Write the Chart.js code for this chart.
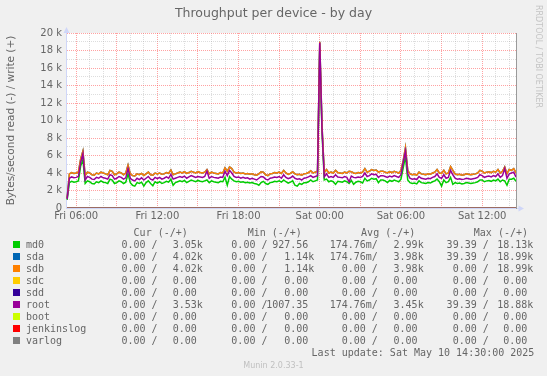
<!DOCTYPE html>
<html>
<head>
<meta charset="utf-8">
<script src="https://cdn.jsdelivr.net/npm/chart.js@4"></script>
<style>
  html, body { margin: 0; padding: 0; background: #f0f0f0; }
  canvas { display: block; }
</style>
</head>
<body>
<canvas id="chart" width="547" height="376"></canvas>
<script>
// time axis: hours since Fri 00:00, one sample every 10 minutes from Fri 05:20
const startHour = 5 + 20 / 60;
const stepHour = 10 / 60;

// write throughput in k bytes/s
const md0 = [
  0.93, 2.9, 3.05, 2.95, 3.0, 3.1, 4.8, 5.5, 2.8, 3.1,
  3.0, 2.8, 2.75, 3.0, 2.9, 3.1, 2.95, 2.9, 2.8, 3.3,
  3.2, 2.8, 2.9, 3.1, 3.0, 2.8, 2.95, 3.9, 2.9, 2.6,
  2.5, 2.9, 2.8, 2.95, 2.5, 2.9, 3.1, 2.8, 2.55, 3.0,
  2.85, 3.0, 2.8, 2.9, 3.05, 2.95, 3.3, 2.6, 2.9, 3.0,
  3.1, 3.0, 3.15, 2.9, 3.05, 3.2, 3.1, 3.0, 3.15, 3.05,
  3.0, 3.1, 3.2, 2.9, 3.1, 3.0, 2.95, 2.9, 3.05, 3.0,
  3.5, 2.6, 3.6, 3.3, 3.1, 3.0, 3.05, 2.95, 3.0, 2.9,
  2.95, 2.85, 2.9, 2.8, 2.75, 2.6, 2.9, 3.05, 2.8, 2.7,
  2.9, 2.95, 3.05, 3.0, 3.1, 2.95, 3.2, 3.0, 2.85, 2.95,
  3.1, 2.6, 2.5, 2.8, 2.7, 2.9, 2.9, 3.0, 3.2, 3.0,
  3.1, 3.2, 18.13, 8.7, 3.2, 3.3, 3.0, 3.1, 3.0, 2.7,
  3.05, 3.0, 2.95, 3.1, 3.0, 2.8, 3.15, 2.7, 2.95, 3.05,
  3.0, 2.85, 3.4, 3.1, 3.2, 3.4, 3.3, 3.35, 2.9, 3.2,
  3.2, 3.1, 2.9, 3.15, 3.05, 3.2, 3.1, 3.0, 3.3, 4.6,
  5.9, 3.2, 2.9, 2.8, 2.85, 2.75, 3.1, 2.9, 2.85, 2.8,
  2.9, 2.85, 3.0, 3.1, 3.3, 3.0, 2.5, 3.2, 2.9, 3.0,
  3.5, 2.7, 2.9, 2.8, 2.85, 2.75, 2.8, 2.9, 2.85, 2.8,
  2.85, 2.9, 3.0, 3.2, 3.2, 3.0, 3.1, 3.15, 3.05, 3.2,
  3.1, 3.3, 3.0, 3.2, 3.1, 2.6, 3.3, 3.3, 3.4, 3.05
];
const sdb = [
  1.14, 3.9, 4.05, 3.95, 4.0, 4.1, 5.6, 6.5, 3.7, 4.1,
  4.0, 3.8, 3.75, 4.0, 3.9, 4.1, 4.0, 3.9, 3.8, 4.3,
  4.2, 3.8, 3.9, 4.1, 4.0, 3.8, 4.0, 4.9, 3.9, 3.7,
  3.65, 3.9, 3.8, 3.95, 3.7, 3.9, 4.1, 3.8, 3.75, 4.0,
  3.9, 4.0, 3.85, 3.9, 4.05, 3.95, 4.35, 3.8, 3.9, 4.0,
  4.1, 4.0, 4.15, 3.95, 4.05, 4.2, 4.1, 4.0, 4.15, 4.05,
  4.0, 4.1, 4.4, 3.9, 4.1, 4.0, 3.95, 3.9, 4.05, 4.0,
  4.6, 4.2, 4.7, 4.5, 4.1, 4.0, 4.05, 3.95, 4.0, 3.9,
  3.95, 3.85, 3.9, 3.8, 3.75, 3.9, 4.15, 4.1, 3.8, 3.7,
  3.9, 3.95, 4.05, 4.0, 4.1, 3.95, 4.3, 4.0, 3.85, 3.95,
  4.15, 3.9, 3.8, 3.85, 3.75, 3.9, 3.95, 4.05, 4.25, 4.0,
  4.1, 4.2, 18.99, 9.4, 4.05, 4.4, 4.0, 4.1, 4.0, 4.3,
  4.05, 4.0, 3.95, 4.1, 4.0, 4.2, 4.15, 4.0, 3.95, 4.05,
  4.0, 4.1, 4.5, 4.1, 4.2, 4.4, 4.3, 4.35, 4.1, 4.2,
  4.2, 4.1, 4.0, 4.15, 4.05, 4.2, 4.1, 4.0, 4.3, 5.4,
  6.9, 4.3, 3.9, 3.8, 3.85, 3.75, 4.1, 3.9, 3.85, 3.8,
  3.9, 3.85, 4.0, 4.1, 4.4, 4.0, 3.95, 4.3, 3.9, 4.0,
  4.75, 4.3, 3.9, 3.8, 3.85, 3.75, 3.8, 3.9, 3.85, 3.8,
  3.85, 3.9, 4.0, 4.3, 4.2, 4.0, 4.1, 4.15, 4.05, 4.2,
  4.1, 4.4, 4.0, 4.2, 4.7, 3.9, 4.4, 4.3, 4.5, 4.02
];
// sda mirrors sdb (identical stats in the legend), drawn underneath it
const sda = sdb.slice();
const root = [
  1.01, 3.4, 3.55, 3.45, 3.5, 3.6, 5.2, 6.2, 3.2, 3.6,
  3.5, 3.3, 3.25, 3.5, 3.4, 3.6, 3.45, 3.4, 3.3, 3.8,
  3.7, 3.3, 3.4, 3.6, 3.5, 3.3, 3.45, 4.5, 3.4, 3.2,
  3.1, 3.4, 3.25, 3.45, 3.2, 3.4, 3.6, 3.3, 3.2, 3.5,
  3.35, 3.5, 3.3, 3.4, 3.55, 3.4, 3.85, 3.3, 3.4, 3.5,
  3.6, 3.5, 3.65, 3.4, 3.55, 3.7, 3.6, 3.5, 3.6, 3.55,
  3.5, 3.6, 4.2, 3.4, 3.6, 3.5, 3.45, 3.4, 3.55, 3.5,
  4.2, 3.7, 4.3, 4.0, 3.6, 3.5, 3.55, 3.4, 3.5, 3.4,
  3.45, 3.3, 3.4, 3.3, 3.2, 3.4, 3.6, 3.55, 3.3, 3.2,
  3.4, 3.45, 3.55, 3.5, 3.6, 3.4, 3.8, 3.5, 3.35, 3.45,
  3.65, 3.4, 3.3, 3.35, 3.2, 3.4, 3.45, 3.55, 3.7, 3.5,
  3.6, 3.7, 18.88, 9.0, 3.55, 3.9, 3.5, 3.6, 3.5, 3.8,
  3.55, 3.5, 3.45, 3.6, 3.5, 3.0, 3.65, 3.5, 3.45, 3.55,
  3.5, 3.6, 4.0, 3.6, 3.7, 3.9, 3.8, 3.85, 3.5, 3.7,
  3.7, 3.6, 3.5, 3.65, 3.55, 3.7, 3.6, 3.5, 3.8, 5.2,
  6.5, 3.9, 3.4, 3.3, 3.35, 3.25, 3.6, 3.4, 3.35, 3.3,
  3.4, 3.35, 3.5, 3.6, 3.9, 3.5, 3.4, 3.8, 3.4, 3.5,
  4.3, 3.8, 3.4, 3.3, 3.35, 3.25, 3.3, 3.4, 3.35, 3.3,
  3.35, 3.4, 3.5, 3.8, 3.7, 3.5, 3.6, 3.65, 3.55, 3.7,
  3.6, 3.9, 3.5, 3.7, 4.5, 3.4, 3.9, 4.0, 4.1, 3.53
];
// devices that stayed at 0 for the whole period (first and last sample)
const sdc = [0, 0];
const sdd = [0, 0];
const boot = [0, 0];
const jenkinslog = [0, 0];
const varlog = [0, 0];

const names = ['md0', 'sda', 'sdb', 'sdc', 'sdd', 'root', 'boot', 'jenkinslog', 'varlog'];
const colors = ['#00CC00', '#0066B3', '#FF8000', '#FFCC00', '#330099', '#990099', '#CCFF00', '#FF0000', '#808080'];
const series = [md0, sda, sdb, sdc, sdd, root, boot, jenkinslog, varlog];

const xLabelHours = [6, 12, 18, 24, 30, 36];
const xLabels = ['Fri 06:00', 'Fri 12:00', 'Fri 18:00', 'Sat 00:00', 'Sat 06:00', 'Sat 12:00'];

// legend table (read / write)
const curRead = ['  0.00 /', '  0.00 /', '  0.00 /', '  0.00 /', '  0.00 /', '  0.00 /', '  0.00 /', '  0.00 /', '  0.00 /'];
const curWrite = ['   3.05k', '   4.02k', '   4.02k', '   0.00', '   0.00', '   3.53k', '   0.00', '   0.00', '   0.00'];
const minRead = ['  0.00 /', '  0.00 /', '  0.00 /', '  0.00 /', '  0.00 /', '  0.00 /', '  0.00 /', '  0.00 /', '  0.00 /'];
const minWrite = [' 927.56', '   1.14k', '   1.14k', '   0.00', '   0.00', '1007.35', '   0.00', '   0.00', '   0.00'];
const avgRead = ['174.76m/', '174.76m/', '  0.00 /', '  0.00 /', '  0.00 /', '174.76m/', '  0.00 /', '  0.00 /', '  0.00 /'];
const avgWrite = ['   2.99k', '   3.98k', '   3.98k', '   0.00', '   0.00', '   3.45k', '   0.00', '   0.00', '   0.00'];
const maxRead = [' 39.39 /', ' 39.39 /', '  0.00 /', '  0.00 /', '  0.00 /', ' 39.39 /', '  0.00 /', '  0.00 /', '  0.00 /'];
const maxWrite = ['  18.13k', '  18.99k', '  18.99k', '   0.00', '   0.00', '  18.88k', '   0.00', '   0.00', '   0.00'];

const lastSample = startHour + (md0.length - 1) * stepHour;

function toPoints(values) {
  if (values.length === 2) {
    return [{ x: startHour, y: values[0] }, { x: lastSample, y: values[1] }];
  }
  return values.map((v, i) => ({ x: startHour + i * stepHour, y: v }));
}

const datasets = series.map((values, i) => ({
  label: names[i],
  data: toPoints(values),
  borderColor: colors[i],
  backgroundColor: colors[i],
  borderWidth: 1.5,
  pointRadius: 0,
  tension: 0,
  fill: false,
  order: series.length - i  // later devices on top, like rrdtool
}));

const FONT = '#666666';
const AXIS = '#CFD6F8';
const GRID = 'rgba(150, 150, 150, 0.32)';
const MGRID = 'rgba(255, 70, 70, 0.5)';

const muninPlugin = {
  id: 'munin',
  beforeDraw(chart) {
    const { ctx, chartArea: a } = chart;
    ctx.save();
    ctx.fillStyle = '#F0F0F0';
    ctx.fillRect(0, 0, chart.width, chart.height);
    ctx.fillStyle = '#FFFFFF';
    ctx.fillRect(a.left, a.top, a.right - a.left, a.bottom - a.top);
    ctx.restore();
  },
  afterDraw(chart) {
    const { ctx, chartArea: a } = chart;
    ctx.save();

    // right frame line
    ctx.strokeStyle = '#9a9a9a';
    ctx.lineWidth = 1;
    ctx.beginPath();
    ctx.moveTo(a.right + 0.5, a.top);
    ctx.lineTo(a.right + 0.5, a.bottom + 1);
    ctx.stroke();

    // axis extensions and arrows
    ctx.strokeStyle = AXIS;
    ctx.fillStyle = AXIS;
    ctx.beginPath();
    ctx.moveTo(a.left + 0.5, a.top);
    ctx.lineTo(a.left + 0.5, a.top - 3);
    ctx.moveTo(a.right + 1, a.bottom + 0.5);
    ctx.lineTo(a.right + 3, a.bottom + 0.5);
    ctx.stroke();
    ctx.beginPath();
    ctx.moveTo(a.left + 0.5, a.top - 6);
    ctx.lineTo(a.left - 2.5, a.top);
    ctx.lineTo(a.left + 3.5, a.top);
    ctx.closePath();
    ctx.fill();
    ctx.beginPath();
    ctx.moveTo(a.right + 8, a.bottom + 0.5);
    ctx.lineTo(a.right + 2.5, a.bottom - 2.5);
    ctx.lineTo(a.right + 2.5, a.bottom + 3.5);
    ctx.closePath();
    ctx.fill();

    // title
    ctx.fillStyle = FONT;
    ctx.font = '12.5px "DejaVu Sans"';
    ctx.textAlign = 'center';
    ctx.textBaseline = 'middle';
    ctx.fillText('Throughput per device - by day', 273.5, 14);

    // vertical axis title
    ctx.save();
    ctx.translate(11, (a.top + a.bottom) / 2);
    ctx.rotate(-Math.PI / 2);
    ctx.font = '10.5px "DejaVu Sans"';
    ctx.fillText('Bytes/second read (-) / write (+)', 0, 0);
    ctx.restore();

    // rrdtool watermark
    ctx.save();
    ctx.translate(538.5, 5);
    ctx.rotate(Math.PI / 2);
    ctx.textAlign = 'left';
    ctx.fillStyle = '#c4c4c4';
    ctx.font = '8px "DejaVu Sans"';
    ctx.fillText('RRDTOOL / TOBI OETIKER', 0, 0);
    ctx.restore();

    // legend
    ctx.font = '10px "DejaVu Sans Mono"';
    ctx.textAlign = 'left';
    ctx.fillStyle = FONT;
    ctx.fillText('Cur (-/+)', 133.6, 233);
    ctx.fillText('Min (-/+)', 247.7, 233);
    ctx.fillText('Avg (-/+)', 361.1, 233);
    ctx.fillText('Max (-/+)', 473.8, 233);
    const cols = [
      [curRead, 109.4], [curWrite, 154.6],
      [minRead, 219.3], [minWrite, 266.2],
      [avgRead, 329.7], [avgWrite, 375.5],
      [maxRead, 440.6], [maxWrite, 485.2]
    ];
    names.forEach((name, i) => {
      const y = 245 + i * 12;
      ctx.fillStyle = colors[i];
      ctx.fillRect(13, y - 4, 7, 7);
      ctx.fillStyle = FONT;
      ctx.fillText(name, 26, y);
      cols.forEach(([arr, x]) => ctx.fillText(arr[i], x, y));
    });
    ctx.fillText('Last update: Sat May 10 14:30:00 2025', 311.6, 353);

    ctx.fillStyle = '#c0c0c0';
    ctx.font = '8px "DejaVu Sans"';
    ctx.textAlign = 'center';
    ctx.fillText('Munin 2.0.33-1', 273.5, 366);
    ctx.restore();
  }
};

new Chart(document.getElementById('chart'), {
  type: 'line',
  data: { datasets },
  options: {
    responsive: false,
    animation: false,
    devicePixelRatio: 1,
    layout: { padding: { left: 0, top: 33, right: 31, bottom: 148 } },
    plugins: { legend: { display: false }, title: { display: false }, tooltip: { enabled: false } },
    scales: {
      x: {
        type: 'linear',
        min: 5.25,
        max: 38.5,
        afterBuildTicks(scale) {
          const ticks = [];
          for (let h = 6; h <= 38; h++) ticks.push({ value: h });
          scale.ticks = ticks;
        },
        afterFit(scale) { scale.height = 20; },
        grid: {
          color: (c) => (c.tick && c.tick.value % 3 === 0 ? MGRID : GRID),
          lineWidth: 1,
          drawTicks: false
        },
        border: { display: true, color: AXIS, width: 1, dash: [1, 1] },
        ticks: {
          autoSkip: false,
          maxRotation: 0,
          minRotation: 0,
          padding: 2,
          color: FONT,
          font: { family: 'DejaVu Sans', size: 10 },
          callback: (v) => {
            const k = xLabelHours.indexOf(v);
            return k >= 0 ? xLabels[k] : '';
          }
        }
      },
      y: {
        min: 0,
        max: 20,
        afterFit(scale) { scale.width = 66; },
        grid: {
          color: (c) => (c.tick && c.tick.value % 2 === 0 ? MGRID : GRID),
          lineWidth: 1,
          drawTicks: false
        },
        border: { display: true, color: AXIS, width: 1, dash: [1, 1] },
        ticks: {
          stepSize: 1,
          autoSkip: false,
          padding: 4,
          color: FONT,
          font: { family: 'DejaVu Sans', size: 10 },
          callback: (v) => (v % 2 === 0 ? (v === 0 ? '0' : v + ' k') : '')
        }
      }
    }
  },
  plugins: [muninPlugin]
});
</script>
</body>
</html>
